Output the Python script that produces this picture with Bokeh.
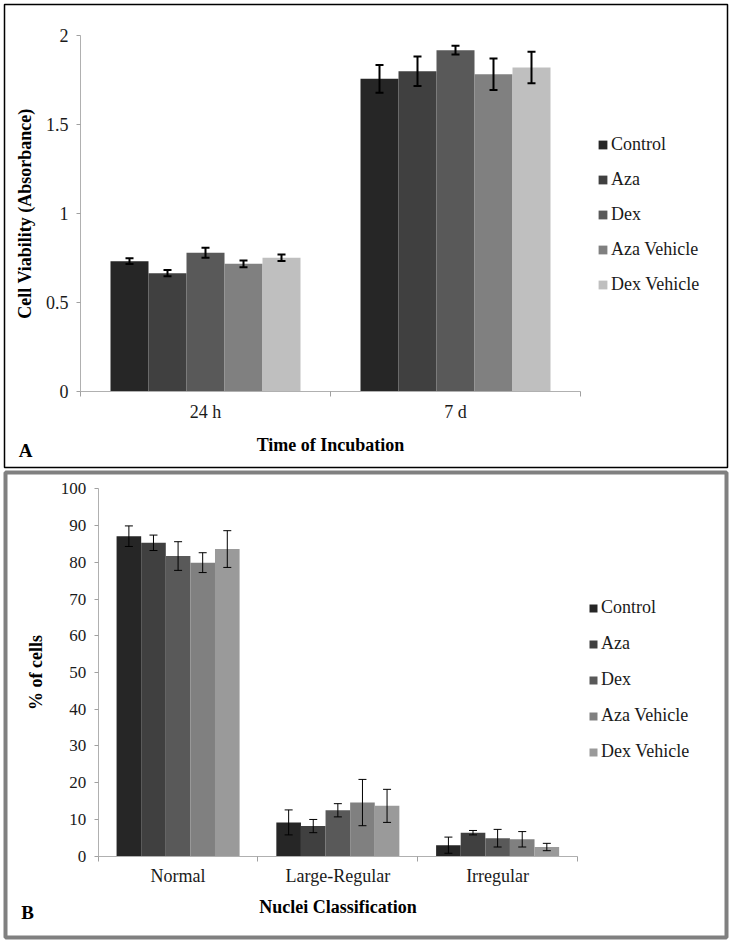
import numpy as np
from bokeh.plotting import figure
from bokeh.models import (ColumnDataSource, Range1d, FixedTicker, Whisker, TeeHead,
                          Label, Legend, LegendItem)
from bokeh.embed import file_html
from bokeh.resources import INLINE

# ---------------- data ----------------
series = ["Control", "Aza", "Dex", "Aza Vehicle", "Dex Vehicle"]

# Panel A: cell viability (absorbance)
times_a = ["24 h", "7 d"]
control_a = [0.731, 1.754]
aza_a = [0.664, 1.797]
dex_a = [0.778, 1.915]
aza_veh_a = [0.716, 1.780]
dex_veh_a = [0.750, 1.818]
control_a_err = [0.016, 0.078]
aza_a_err = [0.018, 0.083]
dex_a_err = [0.028, 0.024]
aza_veh_a_err = [0.019, 0.088]
dex_veh_a_err = [0.018, 0.088]
yticks_a = [0, 0.5, 1, 1.5, 2]
ytick_labels_a = ["0", "0.5", "1", "1.5", "2"]

# Panel B: nuclei classification (% of cells)
classes_b = ["Normal", "Large-Regular", "Irregular"]
control_b = [87.1, 9.2, 3.0]
aza_b = [85.3, 8.2, 6.4]
dex_b = [81.7, 12.5, 4.9]
aza_veh_b = [79.9, 14.6, 4.6]
dex_veh_b = [83.6, 13.7, 2.5]
control_b_err = [2.8, 3.4, 2.2]
aza_b_err = [2.1, 1.8, 0.6]
dex_b_err = [3.9, 1.8, 2.4]
aza_veh_b_err = [2.7, 6.3, 2.1]
dex_veh_b_err = [5.0, 4.5, 1.0]
yticks_b = [0, 10, 20, 30, 40, 50, 60, 70, 80, 90, 100]
ytick_labels_b = ["0", "10", "20", "30", "40", "50", "60", "70", "80", "90", "100"]

colors_a = ["#262626", "#404040", "#595959", "#808080", "#bfbfbf"]
colors_b = ["#262626", "#404040", "#595959", "#808080", "#9a9a9a"]

FONT = "Liberation Serif"


def make_panel(cats, means, errs, colors, ymax, yticks, ytick_labels, ylabel, xlabel,
               tag, width, height, box, axis_px, bar_w, err_lw, legend_loc,
               legend_spacing, glyph_size, ytick_font, xtick_font, xstandoff,
               xlab_standoff, ylab_standoff, tag_pos, border_color, border_width):
    """box = (left, right, top, bottom) of the panel border in figure pixels;
    axis_px = (x0, x1, y0, y1) pixel positions of the axes' start/end."""
    n = len(cats)
    bl, br, bt, bb = box
    ax0, ax1, ay0, ay1 = axis_px
    xs_per_px = n / (ax1 - ax0)
    ys_per_px = ymax / (ay0 - ay1)
    x_range = Range1d((bl - ax0) * xs_per_px, n + (br - ax1) * xs_per_px)
    y_range = Range1d(-(bb - ay0) * ys_per_px, ymax + (ay1 - bt) * ys_per_px)

    p = figure(width=width, height=height, output_backend="svg", toolbar_location=None,
               x_range=x_range, y_range=y_range,
               min_border_left=bl, min_border_right=width - br,
               min_border_top=bt, min_border_bottom=height - bb)
    p.outline_line_color = border_color
    p.outline_line_width = border_width
    p.xgrid.visible = False
    p.ygrid.visible = False
    p.background_fill_color = "white"
    p.border_fill_color = "white"

    centers = np.arange(n) + 0.5
    k = len(means)
    renderers = []
    for j in range(k):
        xs = centers + (j - (k - 1) / 2) * bar_w
        src = ColumnDataSource(dict(x=xs, top=means[j],
                                    upper=np.array(means[j]) + np.array(errs[j]),
                                    lower=np.array(means[j]) - np.array(errs[j])))
        r = p.vbar(x="x", top="top", width=bar_w, bottom=0, source=src,
                   fill_color=colors[j], line_color=None)
        renderers.append(r)
        w = Whisker(source=src, base="x", upper="upper", lower="lower",
                    line_color="black", line_width=err_lw, level="overlay",
                    upper_head=TeeHead(size=8, line_color="black", line_width=err_lw),
                    lower_head=TeeHead(size=8, line_color="black", line_width=err_lw))
        p.add_layout(w)

    # x axis: labels at category centres, separator ticks at boundaries
    xa = p.xaxis[0]
    xa.fixed_location = 0
    xa.bounds = (0, n)
    xa.ticker = FixedTicker(ticks=list(centers), minor_ticks=list(np.arange(n + 1)))
    xa.major_label_overrides = {float(c): lab for c, lab in zip(centers, cats)}
    xa.major_tick_line_color = None
    xa.major_tick_out = 0
    xa.major_tick_in = 0
    xa.minor_tick_line_color = "#a0a0a0"
    xa.minor_tick_out = 5
    xa.minor_tick_in = 0
    xa.axis_line_color = "#b0b0b0"
    xa.major_label_standoff = xstandoff
    xa.major_label_text_font = FONT
    xa.major_label_text_font_size = xtick_font
    xa.major_label_text_color = "#1a1a1a"
    xa.axis_label = xlabel
    xa.axis_label_text_font = FONT
    xa.axis_label_text_font_style = "bold"
    xa.axis_label_text_font_size = "18px"
    xa.axis_label_text_color = "black"
    xa.axis_label_standoff = xlab_standoff

    ya = p.yaxis[0]
    ya.fixed_location = 0
    ya.bounds = (0, ymax)
    ya.ticker = FixedTicker(ticks=yticks, minor_ticks=[])
    ya.major_label_overrides = {float(t): lab for t, lab in zip(yticks, ytick_labels)}
    ya.major_tick_out = 4
    ya.major_tick_in = 0
    ya.major_tick_line_color = "#a0a0a0"
    ya.minor_tick_line_color = None
    ya.axis_line_color = "#b0b0b0"
    ya.major_label_standoff = 8
    ya.major_label_text_font = FONT
    ya.major_label_text_font_size = ytick_font
    ya.major_label_text_color = "#1a1a1a"
    ya.axis_label = ylabel
    ya.axis_label_text_font = FONT
    ya.axis_label_text_font_style = "bold"
    ya.axis_label_text_font_size = "18px"
    ya.axis_label_text_color = "black"
    ya.axis_label_standoff = ylab_standoff

    legend = Legend(items=[LegendItem(label=s, renderers=[r]) for s, r in zip(series, renderers)],
                    location=legend_loc, orientation="vertical",
                    border_line_color=None, background_fill_alpha=0,
                    padding=0, margin=0, spacing=legend_spacing,
                    glyph_width=glyph_size, glyph_height=glyph_size, label_standoff=3,
                    label_height=20, label_text_font=FONT, label_text_font_size="18px",
                    label_text_color="#1a1a1a", label_text_baseline="middle")
    p.add_layout(legend)

    p.add_layout(Label(x=tag_pos[0], y=tag_pos[1], x_units="screen", y_units="screen",
                       text=tag, text_font=FONT, text_font_style="bold",
                       text_font_size="19px", text_color="black",
                       text_align="center", text_baseline="middle"))
    return p


pa = make_panel(times_a,
                [control_a, aza_a, dex_a, aza_veh_a, dex_veh_a],
                [control_a_err, aza_a_err, dex_a_err, aza_veh_a_err, dex_veh_a_err],
                colors_a, 2, yticks_a, ytick_labels_a,
                "Cell Viability (Absorbance)", "Time of Incubation", "A",
                width=733, height=469, box=(4, 727, 4, 467), axis_px=(80, 580, 391, 34.5),
                bar_w=0.152, err_lw=2, legend_loc=(593, 172), legend_spacing=14,
                glyph_size=11, ytick_font="18px", xtick_font="18px", xstandoff=5,
                xlab_standoff=10, ylab_standoff=8, tag_pos=(21, 17),
                border_color="#000000", border_width=1.5)

pb = make_panel(classes_b,
                [control_b, aza_b, dex_b, aza_veh_b, dex_veh_b],
                [control_b_err, aza_b_err, dex_b_err, aza_veh_b_err, dex_veh_b_err],
                colors_b, 100, yticks_b, ytick_labels_b,
                "% of cells", "Nuclei Classification", "B",
                width=733, height=473, box=(5, 726, 3, 468), axis_px=(97.7, 577, 386.7, 19.3),
                bar_w=0.154, err_lw=1, legend_loc=(583, 175), legend_spacing=15,
                glyph_size=10, ytick_font="17px", xtick_font="18px", xstandoff=5,
                xlab_standoff=7, ylab_standoff=12, tag_pos=(22, 25),
                border_color="#808080", border_width=4)

open("out.html", "w").write(file_html([pa, pb], INLINE))
